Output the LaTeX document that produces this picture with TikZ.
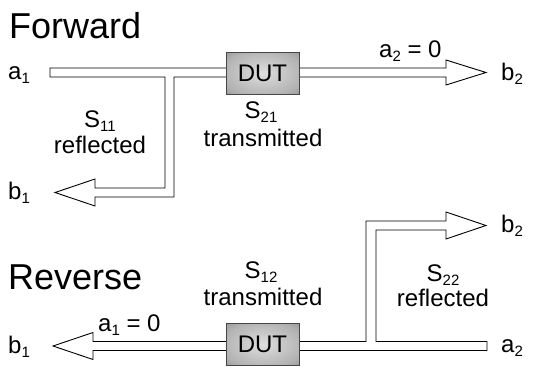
\documentclass[tikz,border=0pt]{standalone}
\usepackage{fontspec}
\setmainfont{Liberation Sans}
\newcommand\sbs[1]{\raisebox{-4pt}{\fontsize{15}{15}\selectfont #1}}
\definecolor{dutA}{RGB}{222,222,222}
\definecolor{dutB}{RGB}{178,178,178}
\definecolor{dutC}{RGB}{112,112,112}
\definecolor{dutline}{RGB}{70,70,70}
\pgfdeclareradialshading[dutA,dutB,dutC]{dutshade}{\pgfpoint{0bp}{0bp}}{color(0bp)=(dutA); color(28bp)=(dutB); color(50bp)=(dutC)}
\tikzset{
  pipe/.style={draw=black, fill=white, line width=0.9pt, line join=miter},
  dut/.style={draw=dutline, line width=0.9pt, shading=dutshade,
    minimum width=73pt, minimum height=42pt, inner sep=0pt, font=\fontsize{24}{28}\selectfont},
  lbl/.style={inner sep=0pt, font=\fontsize{24}{28}\selectfont},
  big/.style={inner sep=0pt, font=\fontsize{36}{40}\selectfont}
}
\begin{document}
\begin{tikzpicture}[x=1pt,y=-1pt]
\useasboundingbox (0,0) rectangle (537,367);
% Forward
\node[big, anchor=base west] (fwd) at (9,38) {Forward};
\path[pipe] (50,68) -- (446,68) -- (446,60) -- (486,72.5) -- (446,85) -- (446,77)
  -- (174,77) -- (174,197) -- (95,197) -- (95,206) -- (55,192.5) -- (95,179) -- (95,188)
  -- (165,188) -- (165,77) -- (50,77) -- cycle;
\node[dut] (dut1) at (262.5,73) {DUT};
\node[lbl, anchor=base west] (a1) at (8,79) {a\sbs{1}};
\node[lbl, anchor=base west] (b1) at (8,199) {b\sbs{1}};
\node[lbl, anchor=base west] (b2) at (501,80) {b\sbs{2}};
\node[lbl, anchor=base west] (a2z) at (379,57) {a\sbs{2} = 0};
\node[lbl, anchor=base] (s11) at (100,127) {S\sbs{11}};
\node[lbl, anchor=base] (refl1) at (100,153) {reflected};
\node[lbl, anchor=base] (s21) at (261,118) {S\sbs{21}};
\node[lbl, anchor=base] (trans1) at (263,146) {transmitted};
% Reverse
\node[big, anchor=base west] (rev) at (8,289) {Reverse};
\path[pipe] (53,346) -- (93,332.5) -- (93,341.5) -- (366,341.5) -- (366,221) -- (446,221)
  -- (446,212) -- (486,225.5) -- (446,239) -- (446,230) -- (376,230) -- (376,341.5)
  -- (487,341.5) -- (487,350.5) -- (93,350.5) -- (93,359.5) -- cycle;
\node[dut] (dut2) at (262.5,344.5) {DUT};
\node[lbl, anchor=base west] (b1r) at (8,353) {b\sbs{1}};
\node[lbl, anchor=base west] (b2r) at (501,232) {b\sbs{2}};
\node[lbl, anchor=base west] (a2r) at (501,352) {a\sbs{2}};
\node[lbl, anchor=base west] (a1z) at (98,331) {a\sbs{1} = 0};
\node[lbl, anchor=base] (s12) at (261,278) {S\sbs{12}};
\node[lbl, anchor=base] (trans2) at (263,305) {transmitted};
\node[lbl, anchor=base] (s22) at (443,281) {S\sbs{22}};
\node[lbl, anchor=base] (refl2) at (443,306) {reflected};
\end{tikzpicture}
\end{document}
